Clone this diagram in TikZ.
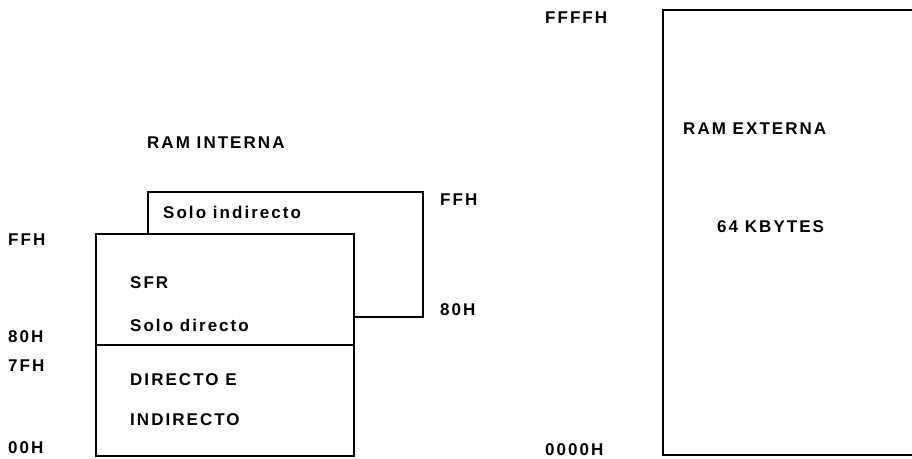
\documentclass[tikz,border=0pt]{standalone}
\usepackage{fontspec}
\setmainfont{Liberation Sans}[LetterSpace=12]
\usepackage{tikz}
\usetikzlibrary{positioning}
\tikzset{
  memlbl/.style={anchor=west, inner sep=0pt, font=\fontsize{17}{19}\selectfont\bfseries},
  membox/.style={draw, line width=1.6pt, inner sep=0pt, anchor=north west},
}

\begin{document}
\begin{tikzpicture}[x=1pt, y=-1pt]
  \useasboundingbox (0,0) rectangle (912,458);
  % RAM interna
  \node[memlbl] (titint) at (147,143) {RAM INTERNA};
  \node[membox, minimum width=275pt, minimum height=125pt] (upper) at (147,191) {};
  \node[membox, fill=white, minimum width=258pt, minimum height=111pt] (sfr) at (95,233) {};
  \node[membox, fill=white, minimum width=258pt, minimum height=111pt] (low) at (95,344) {};
  \node[memlbl] (indir) at (163,212) {Solo indirecto};
  \node[memlbl] (sfrtxt) at (130,283) {SFR};
  \node[memlbl] (dir) at (130,325) {Solo directo};
  \node[memlbl] (dirE) at (130,380) {DIRECTO E};
  \node[memlbl] (ind) at (130,420) {INDIRECTO};
  \node[memlbl] (ffhr) at (440,200) {FFH};
  \node[memlbl] (h80r) at (440,310) {80H};
  \node[memlbl] (ffhl) at (8,240) {FFH};
  \node[memlbl] (h80l) at (8,337) {80H};
  \node[memlbl] (h7fl) at (8,366) {7FH};
  \node[memlbl] (h00l) at (8,448) {00H};
  % RAM externa
  \coordinate (extTR) at (912,10);
  \coordinate (extTL) at (663,10);
  \coordinate (extBL) at (663,455);
  \coordinate (extBR) at (912,455);
  \draw[line width=1.6pt] (extTR) -- (extTL) -- (extBL) -- (extBR);
  \node[memlbl] (ffff) at (545,18) {FFFFH};
  \node[memlbl] (h0000) at (545,450) {0000H};
  \node[memlbl] (titext) at (683,129) {RAM EXTERNA};
  \node[memlbl] (kb) at (717,227) {64 KBYTES};
\end{tikzpicture}
\end{document}
